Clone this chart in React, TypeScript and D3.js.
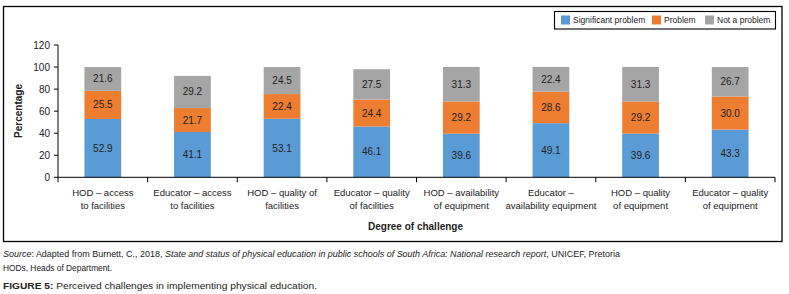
import React from "react";
import * as d3 from "d3";

const categories = [
  ["HOD – access", "to facilities"],
  ["Educator – access", "to facilities"],
  ["HOD – quality of", "facilities"],
  ["Educator – quality", "of facilities"],
  ["HOD – availability", "of equipment"],
  ["Educator –", "availability equipment"],
  ["HOD – quality", "of equipment"],
  ["Educator – quality", "of equipment"],
];
const significant = [52.9, 41.1, 53.1, 46.1, 39.6, 49.1, 39.6, 43.3];
const problem = [25.5, 21.7, 22.4, 24.4, 29.2, 28.6, 29.2, 30.0];
const notProblem = [21.6, 29.2, 24.5, 27.5, 31.3, 22.4, 31.3, 26.7];
const seriesNames = ["Significant problem", "Problem", "Not a problem"];
const seriesColors = ["#5B9BD5", "#ED7D31", "#A5A5A5"];
const yTicks = [0, 20, 40, 60, 80, 100, 120];

const FONT = "'Liberation Sans', Arial, sans-serif";

export default function App() {
  const W = 789, H = 294;
  const x0 = 58, x1 = 775, yBase = 177.3, yTop = 45;
  const x = d3.scaleBand<number>().domain(d3.range(categories.length)).range([x0, x1]).padding(0);
  const y = d3.scaleLinear().domain([0, 120]).range([yBase, yTop]);
  const series = [significant, problem, notProblem];
  const bw = x.bandwidth() * 0.41;

  const legendX = [561, 652, 705];
  return (
    <svg width={W} height={H} style={{ position: "absolute", left: 0, top: 0 }} fontFamily={FONT}>
      <rect x={0} y={0} width={W} height={H} fill="#fff" />
      <rect x={3.5} y={6.5} width={778.5} height={235} fill="none" stroke="#000" strokeWidth={1.3} />
      {/* legend */}
      <rect x={554.5} y={11.5} width={221} height={17.5} fill="#fff" stroke="#000" strokeWidth={1.1} />
      {seriesNames.map((n, i) => (
        <g key={n}>
          <rect x={legendX[i]} y={15.5} width={9} height={9} fill={seriesColors[i]} />
          <text x={legendX[i] + 12} y={23} fontSize={8.5} fill="#222">{n}</text>
        </g>
      ))}
      {/* bars */}
      {categories.map((c, i) => {
        let acc = 0;
        const cx = (x(i) as number) + x.bandwidth() / 2;
        return (
          <g key={i}>
            {series.map((s, k) => {
              const v = s[i];
              const yb = y(acc);
              const yt = y(acc + v);
              acc += v;
              return (
                <g key={k}>
                  <rect x={cx - bw / 2} y={yt} width={bw} height={yb - yt} fill={seriesColors[k]} />
                  <text x={cx} y={(yt + yb) / 2 + 3.5} textAnchor="middle" fontSize={10} fill="#222">
                    {v.toFixed(1)}
                  </text>
                </g>
              );
            })}
          </g>
        );
      })}
      {/* y axis */}
      <line x1={x0} x2={x0} y1={yTop} y2={yBase} stroke="#000" strokeWidth={1} />
      {yTicks.map((t) => (
        <g key={t}>
          <line x1={x0 - 4} x2={x0} y1={y(t)} y2={y(t)} stroke="#000" strokeWidth={1} />
          <text x={x0 - 8} y={y(t) + 3.5} textAnchor="end" fontSize={10} fill="#222">{t}</text>
        </g>
      ))}
      {/* x axis */}
      <line x1={x0} x2={x1} y1={yBase} y2={yBase} stroke="#000" strokeWidth={1} />
      {d3.range(categories.length + 1).map((i) => {
        const xx = i < categories.length ? (x(i) as number) : x1;
        return <line key={i} x1={xx} x2={xx} y1={yBase} y2={yBase + 5} stroke="#000" strokeWidth={1} />;
      })}
      {categories.map((c, i) => {
        const cx = (x(i) as number) + x.bandwidth() / 2;
        return (
          <text key={i} textAnchor="middle" fontSize={9.5} fill="#222">
            <tspan x={cx} y={195.5}>{c[0]}</tspan>
            <tspan x={cx} y={208.5}>{c[1]}</tspan>
          </text>
        );
      })}
      <text x={415.5} y={229.5} textAnchor="middle" fontSize={10} fontWeight="bold" fill="#222">Degree of challenge</text>
      <text transform={`translate(21.5,111) rotate(-90)`} textAnchor="middle" fontSize={10} fontWeight="bold" fill="#222">Percentage</text>
      {/* footer */}
      <text x={3} y={256.5} fontSize={9} fill="#222" textLength={617} lengthAdjust="spacingAndGlyphs">
        <tspan fontStyle="italic">Source</tspan>
        <tspan>: Adapted from Burnett, C., 2018, </tspan>
        <tspan fontStyle="italic">State and status of physical education in public schools of South Africa: National research report</tspan>
        <tspan>, UNICEF, Pretoria</tspan>
      </text>
      <text x={3} y={271} fontSize={9} fill="#222" textLength={109} lengthAdjust="spacingAndGlyphs">HODs, Heads of Department.</text>
      <text x={3} y={289} fontSize={9.5} fill="#222" textLength={314} lengthAdjust="spacingAndGlyphs">
        <tspan fontWeight="bold">FIGURE 5:</tspan>
        <tspan> Perceived challenges in implementing physical education.</tspan>
      </text>
    </svg>
  );
}
